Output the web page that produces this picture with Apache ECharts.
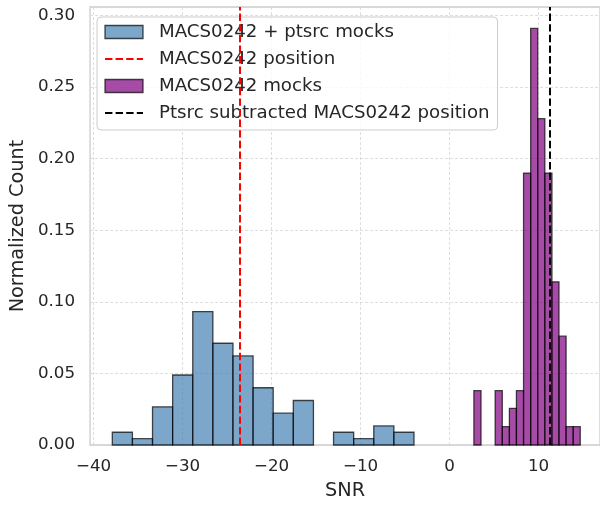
<!DOCTYPE html>
<html>
<head>
<meta charset="utf-8">
<script src="https://cdn.jsdelivr.net/npm/echarts@6/dist/echarts.min.js"></script>
<style>
  html, body { margin: 0; padding: 0; background: #fff; }
  #chart { width: 600px; height: 506px; }
</style>
</head>
<body>
<div id="chart"></div>
<script>
// bin edges and normalized counts
const ptsrcEdges = [-37.9, -35.64, -33.38, -31.12, -28.86, -26.6, -24.34, -22.08, -19.82, -17.56, -15.3, -13.04, -10.78, -8.52, -6.26, -4.0];
const ptsrcValues = [0.0089, 0.0044, 0.0267, 0.0489, 0.0932, 0.0711, 0.0622, 0.0400, 0.0222, 0.0311, 0, 0.0089, 0.0044, 0.0133, 0.0089];

const mockEdges = [2.73, 3.53, 4.32, 5.12, 5.92, 6.72, 7.51, 8.31, 9.11, 9.90, 10.70, 11.50, 12.29, 13.09, 13.89, 14.68];
const mockValues = [0.038, 0, 0, 0.038, 0.0128, 0.0256, 0.038, 0.190, 0.291, 0.228, 0.190, 0.114, 0.076, 0.0128, 0.0128];

const macsPosition = -23.63;
const ptsrcSubPosition = 11.27;

const xTicks = [-40, -30, -20, -10, 0, 10];

const names = [
  'MACS0242 + ptsrc mocks',
  'MACS0242 position',
  'MACS0242 mocks',
  'Ptsrc subtracted MACS0242 position',
];

const FONT = 'DejaVu Sans';
const TEXT = '#262626';
const BLUE = 'rgba(70,130,180,0.7)';
const PURPLE = 'rgba(128,0,128,0.7)';
const EDGE = 'rgba(0,0,0,0.7)';
const DASH = [7.4, 3.2];
const GRID_LINE = { show: true, lineStyle: { color: '#d6d6d6', width: 0.8, type: [3, 2] } };

function histSeries(name, edges, values, color) {
  const data = values.map((v, i) => [edges[i], edges[i + 1], v]);
  return {
    name: name,
    type: 'custom',
    itemStyle: { color: color, borderColor: EDGE, borderWidth: 1.3 },
    encode: { x: [0, 1], y: 2 },
    data: data,
    renderItem: function (params, api) {
      if (api.value(2) <= 0) {
        return;
      }
      const p0 = api.coord([api.value(0), api.value(2)]);
      const p1 = api.coord([api.value(1), 0]);
      return {
        type: 'rect',
        shape: { x: p0[0], y: p0[1], width: p1[0] - p0[0], height: p1[1] - p0[1] },
        style: { fill: color, stroke: EDGE, lineWidth: 1.3 },
      };
    },
  };
}

function vlineSeries(name, x, color) {
  return {
    name: name,
    type: 'line',
    data: [],
    symbol: 'none',
    itemStyle: { color: color },
    lineStyle: { color: color, width: 2, type: DASH },
    z: 5,
    markLine: {
      silent: true,
      symbol: 'none',
      label: { show: false },
      lineStyle: { color: color, width: 2, type: DASH },
      data: [{ xAxis: x }],
    },
  };
}

const minus = (s) => String(s).replace('-', '\u2212');

const chart = echarts.init(document.getElementById('chart'));

const option = {
  animation: false,
  textStyle: { fontFamily: FONT, color: TEXT },
  grid: {
    left: 88,
    right: 0,
    top: 7,
    bottom: 61,
    show: true,
    borderColor: '#cccccc',
    borderWidth: 1.3,
  },
  legend: {
    orient: 'vertical',
    left: 97,
    top: 17,
    padding: [6, 8, 8, 7],
    itemWidth: 38,
    itemHeight: 13,
    itemGap: 9,
    backgroundColor: 'rgba(255,255,255,0.8)',
    borderColor: '#cccccc',
    borderWidth: 1,
    borderRadius: 4,
    textStyle: {
      fontFamily: FONT,
      fontSize: 18.2,
      lineHeight: 18,
      color: TEXT,
      padding: [0, 0, 0, 11],
    },
    data: [
      { name: names[0], icon: 'rect', itemStyle: { color: BLUE, borderColor: EDGE, borderWidth: 1.3 } },
      { name: names[1], itemStyle: { opacity: 0 } },
      { name: names[2], icon: 'rect', itemStyle: { color: PURPLE, borderColor: EDGE, borderWidth: 1.3 } },
      { name: names[3], itemStyle: { opacity: 0 } },
    ],
  },
  xAxis: {
    type: 'value',
    min: -40.4,
    max: 16.9,
    name: 'SNR',
    nameLocation: 'middle',
    nameGap: 36,
    nameTextStyle: { fontFamily: FONT, fontSize: 19.3, color: TEXT },
    axisLine: { show: false },
    axisTick: { show: false, customValues: xTicks },
    axisLabel: {
      fontFamily: FONT,
      fontSize: 16.7,
      color: TEXT,
      margin: 13,
      customValues: xTicks,
      formatter: (v) => minus(v),
    },
    splitLine: Object.assign({ customValues: xTicks }, GRID_LINE),
  },
  yAxis: {
    type: 'value',
    min: 0,
    max: 0.306,
    interval: 0.05,
    name: 'Normalized Count',
    nameLocation: 'middle',
    nameGap: 62,
    nameTextStyle: { fontFamily: FONT, fontSize: 19.3, color: TEXT },
    axisLine: { show: false },
    axisTick: { show: false },
    axisLabel: {
      fontFamily: FONT,
      fontSize: 16.7,
      color: TEXT,
      margin: 15,
      showMaxLabel: false,
      formatter: (v) => v.toFixed(2),
    },
    splitLine: GRID_LINE,
  },
  series: [
    histSeries(names[0], ptsrcEdges, ptsrcValues, BLUE),
    histSeries(names[2], mockEdges, mockValues, PURPLE),
    vlineSeries(names[1], macsPosition, '#ff0000'),
    vlineSeries(names[3], ptsrcSubPosition, '#000000'),
  ],
};

chart.setOption(option);
</script>
</body>
</html>
